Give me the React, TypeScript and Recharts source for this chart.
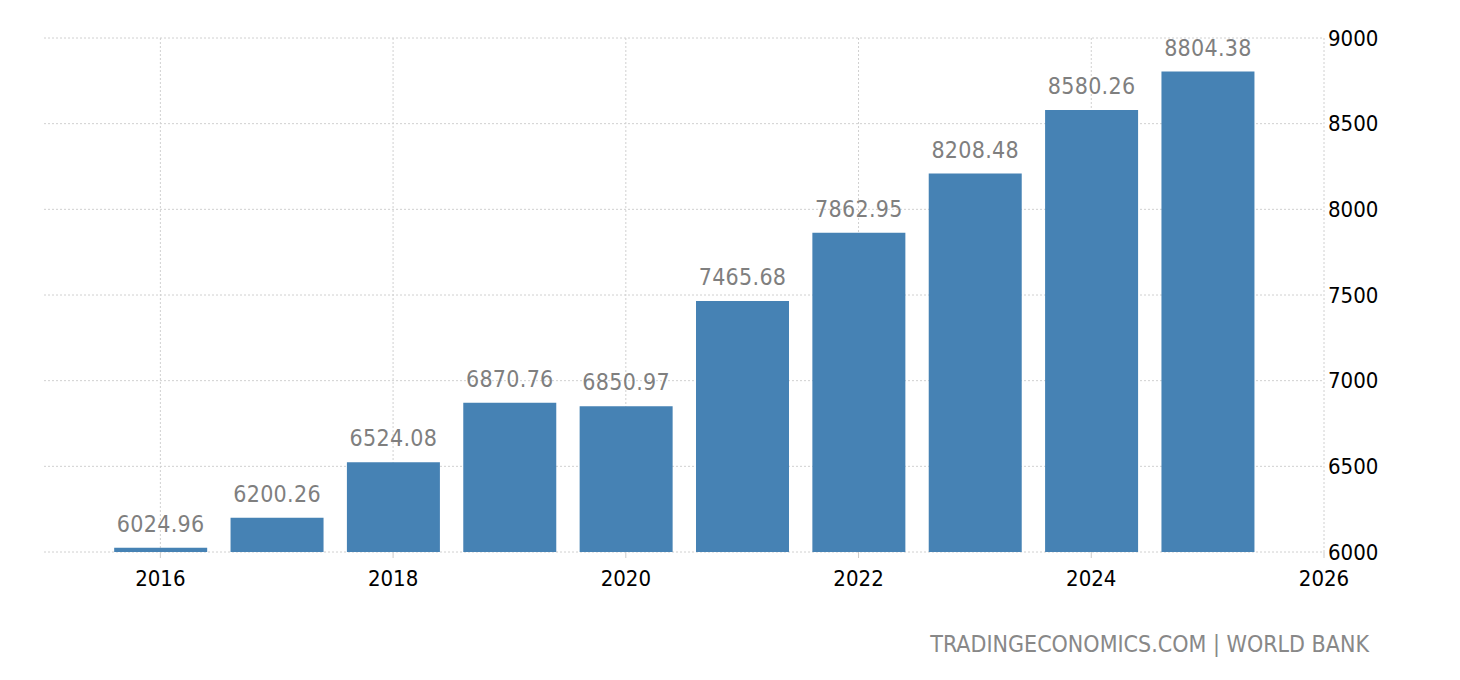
import { BarChart, Bar, XAxis, YAxis, CartesianGrid, LabelList } from "recharts";

const years = [2016, 2017, 2018, 2019, 2020, 2021, 2022, 2023, 2024, 2025];
const values = [6024.96, 6200.26, 6524.08, 6870.76, 6850.97, 7465.68, 7862.95, 8208.48, 8580.26, 8804.38];
const xTicks = [2016, 2018, 2020, 2022, 2024, 2026];
const yTicks = [6000, 6500, 7000, 7500, 8000, 8500, 9000];

const data = years.map((year, i) => ({ year, value: values[i] }));

const FONT = "'DejaVu Sans Condensed', 'DejaVu Sans', sans-serif";

export default function App() {
  return (
    <div style={{ position: "absolute", left: 0, top: 0, width: 1460, height: 680, background: "#fff" }}>
      <BarChart
        width={1460}
        height={680}
        data={data}
        margin={{ top: 38, right: 56, left: 44, bottom: 88 }}
      >
        <CartesianGrid stroke="#d0d0d0" strokeDasharray="2 2" syncWithTicks />
        <XAxis
          dataKey="year"
          type="number"
          domain={[2015, 2026]}
          ticks={xTicks}
          height={40}
          axisLine={false}
          tickLine={{ stroke: "#cccccc" }}
          tickSize={6}
          tickMargin={12}
          tick={{ fill: "#000", fontSize: 22, fontFamily: FONT }}
        />
        <YAxis
          orientation="right"
          domain={[6000, 9000]}
          ticks={yTicks}
          width={80}
          axisLine={false}
          tickLine={false}
          tickSize={0}
          tickMargin={4}
          tick={{ fill: "#000", fontSize: 22, fontFamily: FONT, textAnchor: "start" }}
        />
        <Bar dataKey="value" fill="#4682b4" barSize={93} isAnimationActive={false}>
          <LabelList
            dataKey="value"
            position="top"
            offset={16}
            formatter={(v: number) => v.toFixed(2)}
            style={{ fill: "#7f7f7f", fontSize: 23, fontFamily: FONT, letterSpacing: 0.3 }}
          />
        </Bar>
        <text
          x={1369}
          y={652}
          textAnchor="end"
          style={{ fill: "#888888", fontSize: 23, fontFamily: FONT }}
        >
          TRADINGECONOMICS.COM | WORLD BANK
        </text>
      </BarChart>
    </div>
  );
}
